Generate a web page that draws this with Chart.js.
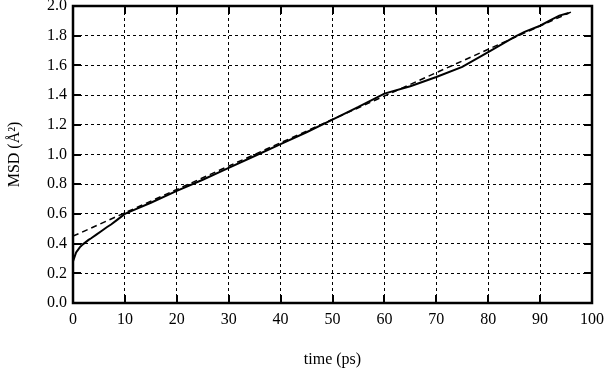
<!DOCTYPE html>
<html>
<head>
<meta charset="utf-8">
<script src="https://cdn.jsdelivr.net/npm/chart.js@4/dist/chart.umd.min.js"></script>
<style>
html,body{margin:0;padding:0;background:#fff;}
#wrap{width:605px;height:371px;}
</style>
</head>
<body>
<div id="wrap"><canvas id="c" width="605" height="371"></canvas></div>
<script>
const msdTime = [0, 0, 0.2, 0.6, 1.3, 1.9, 3, 3.5, 4.5, 5.5, 6.5, 7.4, 8.5, 10, 12, 15, 20, 25, 30, 35, 40, 45, 50, 55, 60, 65, 70, 75, 80, 85, 87, 90, 92, 93.7, 95.5];
const msdValue = [0, 0.28, 0.30, 0.34, 0.375, 0.395, 0.425, 0.436, 0.46, 0.485, 0.51, 0.53, 0.56, 0.60, 0.63, 0.675, 0.755, 0.83, 0.91, 0.99, 1.07, 1.15, 1.235, 1.32, 1.41, 1.46, 1.522, 1.59, 1.69, 1.79, 1.826, 1.867, 1.905, 1.935, 1.953];
const fitTime = [0, 96];
const fitValue = [0.45, 1.96];
const xTicks = [0, 10, 20, 30, 40, 50, 60, 70, 80, 90, 100];
const yTicks = [0.0, 0.2, 0.4, 0.6, 0.8, 1.0, 1.2, 1.4, 1.6, 1.8, 2.0];

const FONT = "'Liberation Serif', 'DejaVu Serif', serif";

const framePlugin = {
  id: 'frame',
  afterDatasetsDraw(chart) {
    const {ctx, chartArea: a, scales: {x, y}} = chart;
    ctx.save();
    ctx.strokeStyle = '#000';
    ctx.lineWidth = 2;
    const L = 8;
    ctx.beginPath();
    xTicks.forEach(v => {
      const px = Math.round(x.getPixelForValue(v));
      ctx.moveTo(px, a.bottom); ctx.lineTo(px, a.bottom - L);
      ctx.moveTo(px, a.top); ctx.lineTo(px, a.top + L);
    });
    yTicks.forEach(v => {
      const py = Math.round(y.getPixelForValue(v));
      ctx.moveTo(a.left, py); ctx.lineTo(a.left + L, py);
      ctx.moveTo(a.right, py); ctx.lineTo(a.right - L, py);
    });
    ctx.stroke();
    ctx.lineWidth = 2.5;
    ctx.strokeRect(a.left, a.top, a.right - a.left, a.bottom - a.top);
    ctx.restore();
  }
};

new Chart(document.getElementById('c'), {
  type: 'scatter',
  data: {
    datasets: [
      {
        data: msdTime.map((t, i) => ({x: t, y: msdValue[i]})),
        showLine: true, borderColor: '#000', borderWidth: 2, pointRadius: 0, tension: 0
      },
      {
        data: fitTime.map((t, i) => ({x: t, y: fitValue[i]})),
        showLine: true, borderColor: '#000', borderWidth: 1.5, borderDash: [6, 4], pointRadius: 0
      }
    ]
  },
  options: {
    responsive: false,
    animation: false,
    events: [],
    layout: {padding: {top: 6, right: 13, left: 0, bottom: 0}},
    plugins: {legend: {display: false}, tooltip: {enabled: false}},
    scales: {
      x: {
        type: 'linear', min: 0, max: 100,
        afterBuildTicks(s) { s.ticks = xTicks.map(v => ({value: v})); },
        afterFit(s) { s.height = 68; s.paddingLeft = 0; s.paddingRight = 0; },
        grid: {color: '#000', lineWidth: 1, drawTicks: false, tickLength: 0},
        border: {display: false, dash: [3, 3]},
        ticks: {color: '#000', font: {family: FONT, size: 16}, padding: 7, maxRotation: 0,
          callback: v => String(v)},
        title: {display: true, text: 'time (ps)', color: '#000', font: {family: FONT, size: 16}, padding: {top: 0, bottom: 2}}
      },
      y: {
        type: 'linear', min: 0, max: 2,
        afterBuildTicks(s) { s.ticks = yTicks.map(v => ({value: v})); },
        afterFit(s) { s.width = 73; s.paddingTop = 0; s.paddingBottom = 0; },
        grid: {color: '#000', lineWidth: 1, drawTicks: false, tickLength: 0},
        border: {display: false, dash: [3, 3]},
        ticks: {color: '#000', font: {family: FONT, size: 16}, padding: 6,
          callback: v => v.toFixed(1)},
        title: {display: true, text: 'MSD (Å²)', color: '#000', font: {family: FONT, size: 16}, padding: {top: 5, bottom: 0}}
      }
    }
  },
  plugins: [framePlugin]
});
</script>
</body>
</html>
